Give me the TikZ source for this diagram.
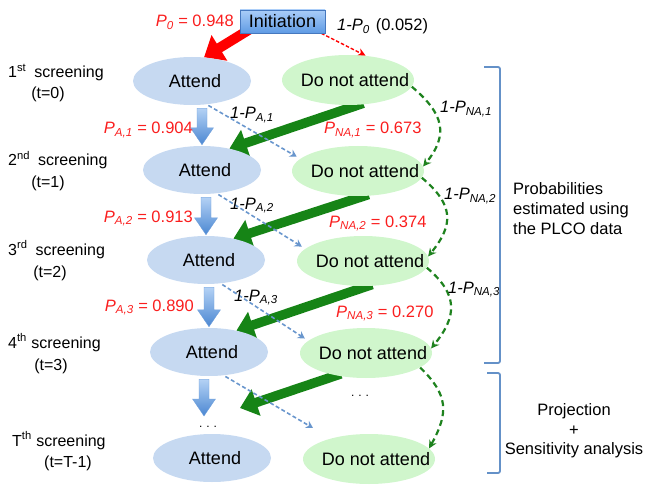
\documentclass[tikz,border=0pt]{standalone}
\usepackage{fontspec}
\setmainfont{Liberation Sans}
\usetikzlibrary{arrows.meta,calc,shapes.geometric,backgrounds}
\definecolor{attfill}{RGB}{198,217,241}
\definecolor{natfill}{RGB}{208,246,204}
\definecolor{lblred}{RGB}{250,30,30}
\definecolor{thickred}{RGB}{255,0,0}
\definecolor{thickgreen}{RGB}{22,132,22}
\definecolor{dashgreen}{RGB}{30,130,30}
\definecolor{dashblue}{RGB}{105,150,205}
\definecolor{brblue}{RGB}{100,145,200}
\definecolor{inittop}{RGB}{170,205,248}
\definecolor{initbot}{RGB}{95,155,228}
\definecolor{initedge}{RGB}{70,120,190}
\definecolor{blktop}{RGB}{180,210,245}
\definecolor{blkbot}{RGB}{75,135,210}
\newcommand\fs[1]{\fontsize{#1}{#1}\selectfont}
\newcommand\PP[1]{\textit{P}\textsubscript{\textit{#1}}}
\newcommand\blockarr[2]{\path[blockfill] let \p1=#1, \p2=#2 in
  (\x1-5pt,\y1) -- (\x1+5pt,\y1) -- (\x1+5pt,\y2+17pt) -- (\x1+11.5pt,\y2+17pt)
  -- (\x1,\y2) -- (\x1-11.5pt,\y2+17pt) -- (\x1-5pt,\y2+17pt) -- cycle;}
\begin{document}
\begin{tikzpicture}[x=1pt,y=-1pt,
  att/.style={ellipse, fill=attfill, minimum width=118pt, minimum height=48pt, inner sep=0pt,
    label={[font=\fs{18},xshift=3pt]center:#1}},
  nat/.style={ellipse, fill=natfill, minimum width=132pt, minimum height=50pt, inner sep=0pt,
    label={[font=\fs{18},xshift=7pt]center:#1}},
  initbox/.style={rectangle, draw=initedge, line width=0.6pt, top color=inittop, bottom color=initbot,
    minimum width=85pt, minimum height=23pt, inner sep=0pt, font=\fs{18}},
  side/.style={font=\fs{16}, inner sep=0pt},
  redlbl/.style={text=lblred, font=\fs{16.5}, inner sep=0pt},
  blklbl/.style={text=black, font=\fs{16.5}, inner sep=0pt},
  dotlbl/.style={font=\fs{12}, inner sep=0pt},
  redthick/.style={draw=thickred, line width=10pt, -{Triangle[length=18pt,width=29pt]}, shorten <=-4pt},
  greenthick/.style={draw=thickgreen, line width=9.5pt, -{Triangle[length=17pt,width=27pt]}, shorten <=-5pt},
  reddash/.style={draw=thickred, line width=1.4pt, dash pattern=on 3.5pt off 2pt, -{Stealth[length=8pt,width=8pt]}},
  bluedash/.style={draw=dashblue, line width=1.6pt, dash pattern=on 4pt off 2.5pt, -{Stealth[length=7pt,width=8pt]}, shorten >=4pt, shorten <=2pt},
  greendash/.style={draw=dashgreen, line width=2.2pt, dash pattern=on 6pt off 4pt, -{Stealth[length=8pt,width=8pt]}},
  blockfill/.style={top color=blktop, bottom color=blkbot, draw=blkbot!80!white, line width=0.3pt},
  bracket/.style={draw=brblue, line width=1.8pt, rounded corners=2pt}
]
\useasboundingbox (0,0) rectangle (648,492);
% ---- nodes
\node[initbox] (Init) at (282.5,21.5) {Initiation};
\node[att=Attend] (A1) at (192,81) {};
\node[nat=Do not attend] (N1) at (348,80) {};
\node[att=Attend] (A2) at (202,170) {};
\node[nat=Do not attend] (N2) at (358,171) {};
\node[att=Attend] (A3) at (206,260) {};
\node[nat=Do not attend] (N3) at (363,261) {};
\node[att=Attend] (A4) at (209,352) {};
\node[nat=Do not attend] (N4) at (366,353) {};
\node[att=Attend] (A5) at (212,458) {};
\node[nat=Do not attend] (N5) at (369,459) {};
\coordinate (b5) at (204,416);
\coordinate (g5) at (240,408);
\coordinate (d5) at (313,428);
% ---- connectors
\begin{scope}[on background layer]
\draw[redthick] ([xshift=10pt,yshift=4pt]Init.south west) -- (A1.63);
\draw[reddash] ([xshift=-4pt]Init.south east) -- (N1.54);
% row 1 -> 2
\blockarr{($(A2.north |- A1.south)+(0,3)$)}{($(A2.north)+(0,-1)$)}
\draw[greenthick] (N1.-67) -- (A2.38);
\draw[bluedash] (A1.-58) -- (N2.168);
\draw[greendash] (N1.-6) .. controls +(32,27) and +(26,-32) .. (N2.4);
% row 2 -> 3
\blockarr{($(A3.north |- A2.south)+(0,3)$)}{($(A3.north)+(0,-1)$)}
\draw[greenthick] (N2.-77) -- (A3.38);
\draw[bluedash] (A2.-58) -- (N3.168);
\draw[greendash] (N2.-6) .. controls +(32,27) and +(26,-32) .. (N3.4);
% row 3 -> 4
\blockarr{($(A4.north |- A3.south)+(0,3)$)}{($(A4.north)+(0,-1)$)}
\draw[greenthick] (N3.-80) -- (A4.38);
\draw[bluedash] (A3.-58) -- (N4.168);
\draw[greendash] (N3.-6) .. controls +(32,27) and +(26,-32) .. (N4.4);
% row 4 -> T
\blockarr{($(b5 |- A4.south)+(0,3)$)}{(b5)}
\draw[greenthick] (N4.-143) -- (g5);
\draw[bluedash, shorten >=0pt] (A4.-58) -- (d5);
\draw[greendash] (N4.-15) .. controls +(28,27) and +(20,-36) .. (N5.10);
\end{scope}
% ---- probability labels
\node[redlbl, anchor=base east] (lP0) at (234,27) {\PP{0} = 0.948};
\node[blklbl, anchor=base west] (lP0c) at (337,31) {\textit{1-P}\textsubscript{\textit{0}}\hspace{6pt}(0.052)};
\node[redlbl, anchor=base east] (lA1) at (193,134) {\PP{A,1} = 0.904};
\node[blklbl, anchor=base west] (lA1c) at (230,119) {\textit{1-P}\textsubscript{\textit{A,1}}};
\node[redlbl, anchor=base west] (lN1) at (324,134) {\PP{NA,1} = 0.673};
\node[blklbl, anchor=base west] (lN1c) at (440,113) {\textit{1-P}\textsubscript{\textit{NA,1}}};
\node[redlbl, anchor=base east] (lA2) at (193,222) {\PP{A,2} = 0.913};
\node[blklbl, anchor=base west] (lA2c) at (230,209) {\textit{1-P}\textsubscript{\textit{A,2}}};
\node[redlbl, anchor=base west] (lN2) at (329,227) {\PP{NA,2} = 0.374};
\node[blklbl, anchor=base west] (lN2c) at (444,200) {\textit{1-P}\textsubscript{\textit{NA,2}}};
\node[redlbl, anchor=base east] (lA3) at (194,311) {\PP{A,3} = 0.890};
\node[blklbl, anchor=base west] (lA3c) at (234,301) {\textit{1-P}\textsubscript{\textit{A,3}}};
\node[redlbl, anchor=base west] (lN3) at (336,317) {\PP{NA,3} = 0.270};
\node[blklbl, anchor=base west] (lN3c) at (448,293) {\textit{1-P}\textsubscript{\textit{NA,3}}};
% ---- dots
\node[dotlbl] (dA) at (208,427) {.\hspace{4pt}.\hspace{4pt}.};
\node[dotlbl] (dN) at (360,396) {.\hspace{4pt}.\hspace{4pt}.};
% ---- side labels
\node[side, anchor=base west] (s1) at (8,78) {1\textsuperscript{st}\hspace{8pt}screening};
\node[side, anchor=base] (t1) at (48,99) {(t=0)};
\node[side, anchor=base west] (s2) at (8,166) {2\textsuperscript{nd}\hspace{8pt}screening};
\node[side, anchor=base] (t2) at (48,187) {(t=1)};
\node[side, anchor=base west] (s3) at (8,255) {3\textsuperscript{rd}\hspace{8pt}screening};
\node[side, anchor=base] (t3) at (50,277) {(t=2)};
\node[side, anchor=base west] (s4) at (8,348) {4\textsuperscript{th} screening};
\node[side, anchor=base] (t4) at (51,370) {(t=3)};
\node[side, anchor=base west] (s5) at (12,446) {T\textsuperscript{th} screening};
\node[side, anchor=base] (t5) at (68,467) {(t=T-1)};
% ---- brackets and notes
\draw[bracket] (484,67) -- (500,67) -- (500,363) -- (484,363);
\draw[bracket] (487,373) -- (500,373) -- (500,473) -- (487,473);
\node[blklbl, anchor=west, align=left, font=\fontsize{16.5}{20}\selectfont] (est) at (513,209)
  {Probabilities\\estimated using\\the PLCO data};
\node[blklbl, align=center, font=\fontsize{16.5}{19.5}\selectfont] (proj) at (574,431)
  {Projection\\+\\Sensitivity analysis};
\end{tikzpicture}
\end{document}
